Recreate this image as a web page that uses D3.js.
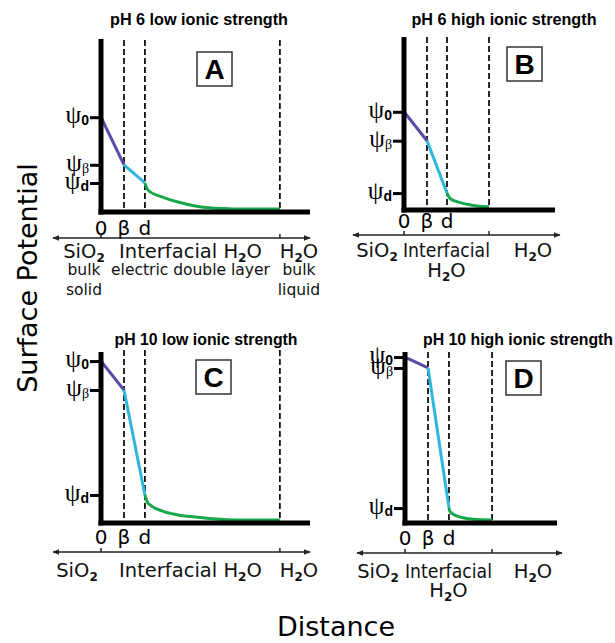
<!DOCTYPE html>
<html>
<head>
<meta charset="utf-8">
<script src="https://cdn.jsdelivr.net/npm/d3@7"></script>
<style>
  body { margin: 0; background: #fff; }
  svg { display: block; }
</style>
</head>
<body>
<div id="chart"></div>
<script>
// values (potential in % of the axis height, distance in beta-plane units)
const panelIds = ["A", "B", "C", "D"];
const titles = ["pH 6 low ionic strength", "pH 6 high ionic strength", "pH 10 low ionic strength", "pH 10 high ionic strength"];
const psi0 = [54, 56, 94.6, 97];
const psiBeta = [26, 39, 77.4, 90.5];
const psiD = [15.3, 8.2, 14.9, 7.1];
const betaPlane = [1, 1, 1, 1];
const dPlane = [1.91, 1.87, 1.91, 1.91];
const slipPlane = [7.78, 3.7, 7.78, 3.78];
const distMax = [9.09, 6.57, 9.09, 6.6];
const diffuseDist = [
  [1.91, 2.04, 2.65, 3.35, 4.09, 4.83, 5.52, 6.26, 7.78],
  [1.87, 2.0, 2.3, 2.74, 3.17, 3.7],
  [1.91, 2.04, 2.65, 3.35, 4.09, 4.83, 5.52, 6.26, 7.78],
  [1.91, 1.96, 2.25, 2.96, 3.78]
];
const diffusePot = [
  [15.3, 11.2, 7.1, 4.1, 1.8, 0.6, 0.2, 0, 0],
  [8.2, 5.1, 3.1, 1.6, 0.6, 0.2],
  [14.9, 10.1, 5.4, 3.0, 1.8, 0.8, 0.2, 0, 0],
  [7.1, 4.9, 2.4, 0.4, 0]
];
const psiNames = [["ψ", "0"], ["ψ", "β"], ["ψ", "d"]];
const distTicks = ["0", "β", "d"];
const solidLabels = [["SiO_2", "bulk", "solid"], ["SiO_2"], ["SiO_2"], ["SiO_2"]];
const interLabels = [["Interfacial H_2O", "electric double layer"], ["Interfacial", "H_2O"], ["Interfacial H_2O"], ["Interfacial", "H_2O"]];
const liquidLabels = [["H_2O", "bulk", "liquid"], ["H_2O"], ["H_2O"], ["H_2O"]];

// panel placement
const layout = [
  { ox: 101, right: 310, axisY: 212, zeroY: 209, topY: 39, dashTop: 40, arrowY: 238, arrowL: 53, arrowR: 310,
    tickY: 235, rows: [258, 275, 295], box: [197, 52], title: [199, 25, 178], solidX: 84, liquidX: 299, interW: null },
  { ox: 404, right: 555, axisY: 210, zeroY: 207, topY: 37, dashTop: 37, arrowY: 235, arrowL: 353, arrowR: 560,
    tickY: 228, rows: [257, 277], box: [507, 47], title: [504, 25, 185], solidX: 377, liquidX: 533, interW: 87 },
  { ox: 101, right: 310, axisY: 523, zeroY: 520, topY: 352, dashTop: 350, arrowY: 552, arrowL: 53, arrowR: 310,
    tickY: 544, rows: [577], box: [196, 360], title: [206, 345, 183], solidX: 77, liquidX: 299, interW: null },
  { ox: 405, right: 557, axisY: 523, zeroY: 520, topY: 352, dashTop: 352, arrowY: 553, arrowL: 357, arrowR: 562,
    tickY: 545, rows: [578, 597], box: [506, 361], title: [518, 345, 190], solidX: 378, liquidX: 533, interW: 87 }
];

const colors = { outer: "#5a4aa5", stern: "#2fb6dc", diffuse: "#17a84c" };
const sans = "'DejaVu Sans', sans-serif";
const bold = "'Liberation Sans', Arial, sans-serif";
const serif = "'Liberation Serif', 'Times New Roman', serif";

const W = 615, H = 643;
const svg = d3.select("#chart").append("svg").attr("width", W).attr("height", H);

svg.append("defs").append("marker")
  .attr("id", "arrow")
  .attr("viewBox", "0 0 10 10")
  .attr("refX", 9).attr("refY", 5)
  .attr("markerWidth", 7).attr("markerHeight", 7)
  .attr("markerUnits", "userSpaceOnUse")
  .attr("orient", "auto-start-reverse")
  .append("path").attr("d", "M0,1 L10,5 L0,9 Z").attr("fill", "#222");

// text with _x subscripts
function chem(sel, str, subSize) {
  const parts = str.split(/_(\d)/);
  parts.forEach((p, i) => {
    if (p === "") return;
    if (i % 2 === 1) {
      sel.append("tspan").attr("font-size", subSize).attr("font-weight", "bold").attr("dy", 4).text(p);
    } else {
      sel.append("tspan").attr("dy", i > 0 ? -4 : 0).text(p);
    }
  });
  return sel;
}

panelIds.forEach((id, i) => {
  const L = layout[i];
  const g = svg.append("g");

  const x = d3.scaleLinear().domain([0, distMax[i]]).range([L.ox, L.right]);
  const y = d3.scaleLinear().domain([0, 100]).range([L.zeroY, L.topY]);

  // title
  g.append("text")
    .attr("x", L.title[0]).attr("y", L.title[1])
    .attr("text-anchor", "middle")
    .attr("font-family", bold).attr("font-weight", "bold").attr("font-size", 16)
    .attr("textLength", L.title[2]).attr("lengthAdjust", "spacingAndGlyphs")
    .text(titles[i]);

  // dashed planes
  g.selectAll(".plane")
    .data([betaPlane[i], dPlane[i], slipPlane[i]])
    .enter().append("line")
    .attr("x1", d => x(d)).attr("x2", d => x(d))
    .attr("y1", L.dashTop).attr("y2", L.axisY)
    .attr("stroke", "#111").attr("stroke-width", 1.8)
    .attr("stroke-dasharray", "6,3");

  // potential ticks
  const levels = [psi0[i], psiBeta[i], psiD[i]];
  const yAxis = g.append("g")
    .attr("transform", `translate(${L.ox},0)`)
    .call(d3.axisLeft(y).tickValues(levels).tickSize(11).tickFormat(""));
  yAxis.select(".domain").remove();
  yAxis.selectAll(".tick line").attr("stroke", "#000").attr("stroke-width", 3);

  // psi labels
  levels.forEach((v, k) => {
    const t = g.append("text")
      .attr("x", L.ox - 12).attr("y", y(v) + 6)
      .attr("text-anchor", "end");
    t.append("tspan").attr("font-family", serif).attr("font-size", 25).text(psiNames[k][0]);
    t.append("tspan")
      .attr("font-family", k === 1 ? serif : bold)
      .attr("font-weight", k === 1 ? "normal" : "bold")
      .attr("font-size", 14)
      .attr("dy", 2)
      .text(psiNames[k][1]);
  });

  // potential profile
  const line = d3.line().x(d => x(d[0])).y(d => y(d[1]));
  g.append("path")
    .attr("d", line([[0, psi0[i]], [betaPlane[i], psiBeta[i]]]))
    .attr("fill", "none").attr("stroke", colors.outer).attr("stroke-width", 3);
  g.append("path")
    .attr("d", line([[betaPlane[i], psiBeta[i]], [dPlane[i], psiD[i]]]))
    .attr("fill", "none").attr("stroke", colors.stern).attr("stroke-width", 3);
  const diffuse = diffuseDist[i].map((d, k) => [d, diffusePot[i][k]]);
  g.append("path")
    .attr("d", line.curve(d3.curveMonotoneX)(diffuse))
    .attr("fill", "none").attr("stroke", colors.diffuse).attr("stroke-width", 3);

  // main axes
  g.append("line")
    .attr("x1", L.ox).attr("x2", L.ox)
    .attr("y1", L.topY).attr("y2", L.axisY + 2.5)
    .attr("stroke", "#000").attr("stroke-width", 5);
  g.append("line")
    .attr("x1", L.ox - 2.5).attr("x2", L.right)
    .attr("y1", L.axisY).attr("y2", L.axisY)
    .attr("stroke", "#000").attr("stroke-width", 5);

  // panel letter box
  g.append("rect")
    .attr("x", L.box[0]).attr("y", L.box[1])
    .attr("width", 35).attr("height", 34)
    .attr("fill", "#fff").attr("stroke", "#333").attr("stroke-width", 1.5);
  g.append("text")
    .attr("x", L.box[0] + 17.5).attr("y", L.box[1] + 27)
    .attr("text-anchor", "middle")
    .attr("font-family", bold).attr("font-weight", "bold").attr("font-size", 28)
    .text(id);

  // distance tick labels
  g.selectAll(".dtick")
    .data([0, betaPlane[i], dPlane[i]])
    .enter().append("text")
    .attr("x", d => x(d)).attr("y", L.tickY)
    .attr("text-anchor", "middle")
    .attr("font-family", sans).attr("font-size", 20)
    .text((d, k) => distTicks[k]);

  // region arrow
  g.append("line")
    .attr("x1", L.arrowL).attr("x2", L.arrowR)
    .attr("y1", L.arrowY).attr("y2", L.arrowY)
    .attr("stroke", "#222").attr("stroke-width", 1.5)
    .attr("marker-start", "url(#arrow)").attr("marker-end", "url(#arrow)");
  g.selectAll(".rtick")
    .data([0, slipPlane[i]])
    .enter().append("line")
    .attr("x1", d => x(d)).attr("x2", d => x(d))
    .attr("y1", L.arrowY - 4).attr("y2", L.arrowY)
    .attr("stroke", "#222").attr("stroke-width", 1.5);

  // region labels
  const addRows = (labels, cx, fitFirst) => {
    labels.forEach((s, k) => {
      const t = g.append("text")
        .attr("x", cx).attr("y", L.rows[k])
        .attr("text-anchor", "middle")
        .attr("font-family", sans).attr("font-size", k === 0 ? 19.5 : 15.5)
        .attr("fill", "#111");
      if (k === 1 && L.interW && labels === interLabels[i]) t.attr("font-size", 19.5);
      if (k === 0 && fitFirst) t.attr("textLength", fitFirst).attr("lengthAdjust", "spacingAndGlyphs");
      chem(t, s, 12);
    });
  };
  addRows(solidLabels[i], L.solidX, null);
  addRows(interLabels[i], (x(0) + x(slipPlane[i])) / 2, L.interW);
  addRows(liquidLabels[i], L.liquidX, null);
});

// shared axis titles
svg.append("text")
  .attr("transform", "translate(37,278) rotate(-90)")
  .attr("text-anchor", "middle")
  .attr("font-family", sans).attr("font-size", 27)
  .text("Surface Potential");
svg.append("text")
  .attr("x", 336).attr("y", 636)
  .attr("text-anchor", "middle")
  .attr("font-family", sans).attr("font-size", 27)
  .text("Distance");
</script>
</body>
</html>
